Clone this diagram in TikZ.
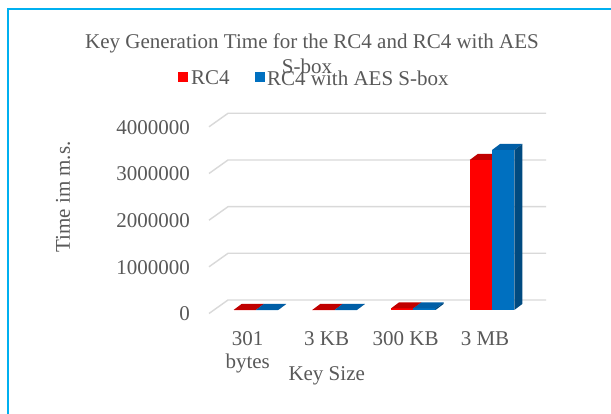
\documentclass[tikz,border=0pt]{standalone}
\usepackage{fontspec}
\setmainfont{Liberation Serif}
\definecolor{txt}{HTML}{595959}
\definecolor{grid}{HTML}{D9D9D9}
\definecolor{frame}{HTML}{00B0F0}
\definecolor{redF}{HTML}{FF0000}
\definecolor{redT}{HTML}{C00000}
\definecolor{bluF}{HTML}{0070C0}
\definecolor{bluT}{HTML}{005EA6}
\definecolor{bluS}{HTML}{004A80}
% #1 left x, #2 height, #3 front, #4 top, #5 side
\newcommand\drawthreedbar[5]{%
  \fill[#3] (#1,310) rectangle ({#1+22.3},{310-#2});
  \fill[#4] (#1,{310-#2}) -- ({#1+22.3},{310-#2}) -- ({#1+30.3},{304-#2}) -- ({#1+8},{304-#2}) -- cycle;
  \fill[#5] ({#1+22.3},310) -- ({#1+30.3},304) -- ({#1+30.3},{304-#2}) -- ({#1+22.3},{310-#2}) -- cycle;
}
\begin{document}
\begin{tikzpicture}[x=1pt,y=-1pt,
  lbl/.style={text=txt,font=\fontsize{21}{24}\selectfont,inner sep=0pt},
  gridln/.style={draw=grid,line width=1.4pt}]
\useasboundingbox (0,0) rectangle (611,414);
\fill[white] (0,0) rectangle (611,414);
% frame
\draw[frame,line width=2pt] (7.5,414) -- (7.5,9) -- (611,9);
% title
\node[lbl] (t1) at (312,43) {Key Generation Time for the RC4 and RC4 with AES};
\node[lbl] (t2) at (307,66) {S-box};
% legend
\fill[redF] (177.5,72.5) rectangle (187.5,82.5);
\node[lbl,anchor=west] (l1) at (191,78) {RC4};
\fill[bluF] (255,72.5) rectangle (265,82.5);
\node[lbl,anchor=west] (l2) at (267,78) {RC4 with AES S-box};
% gridlines
\foreach \v/\y in {0/300,1000000/253.3,2000000/206.7,3000000/160,4000000/113.3}{
  \draw[gridln] (209,{\y+13.5}) -- (228,\y) -- (546,\y);
  \node[lbl,anchor=east] at (190,{\y+14}) {\v};
}
% bars
\drawthreedbar{233.5}{0}{redF}{redT}{redT}
\drawthreedbar{255.8}{0}{bluF}{bluT}{bluS}
\drawthreedbar{312.2}{0}{redF}{redT}{redT}
\drawthreedbar{334.5}{0}{bluF}{bluT}{bluS}
\drawthreedbar{390.9}{1.5}{redF}{redT}{redT}
\drawthreedbar{413.2}{1.5}{bluF}{bluT}{bluS}
\drawthreedbar{469.7}{150}{redF}{redT}{redT}
\drawthreedbar{492}{160}{bluF}{bluT}{bluS}
% category labels
\node[lbl] (c1) at (247.7,339) {301};
\node[lbl] (c1b) at (247.7,363) {bytes};
\node[lbl] (c2) at (326.7,339) {3 KB};
\node[lbl] (c3) at (405.7,339) {300 KB};
\node[lbl] (c4) at (485,339) {3 MB};
% axis titles
\node[lbl] (xt) at (326.7,376) {Key Size};
\node[lbl,rotate=90] (yt) at (63,197) {Time im m.s.};
\end{tikzpicture}
\end{document}
